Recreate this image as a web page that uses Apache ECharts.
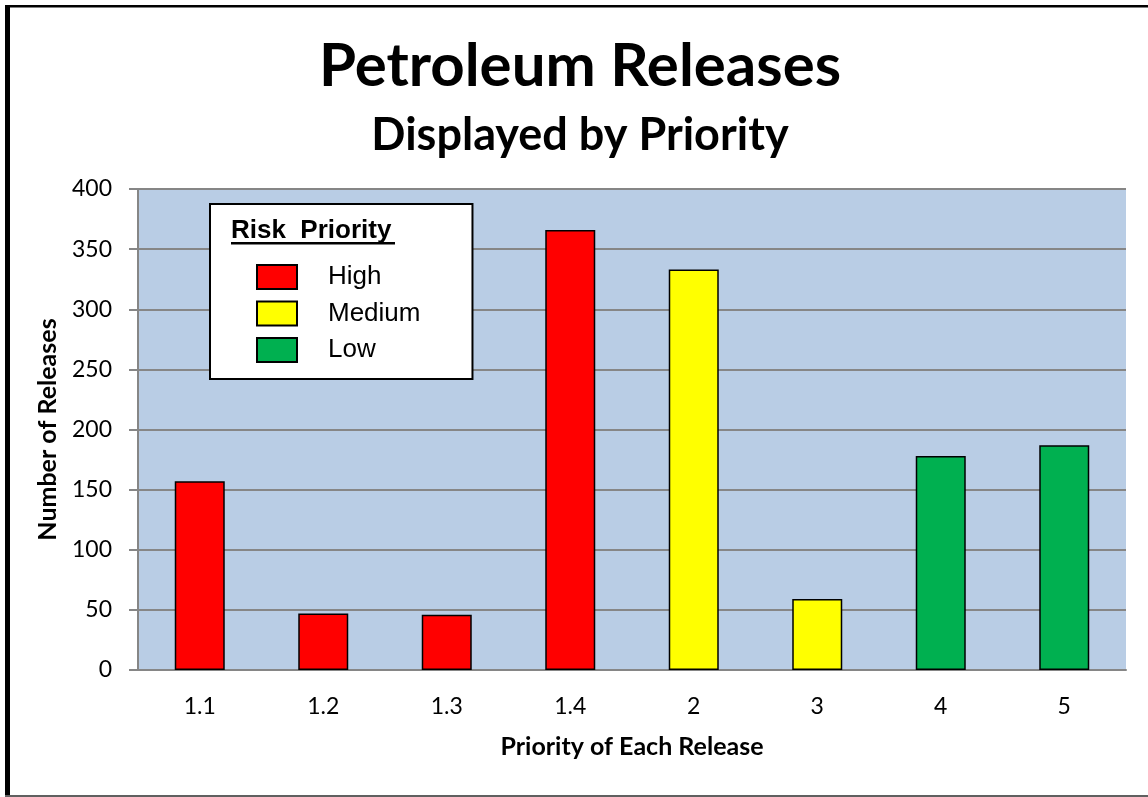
<!DOCTYPE html>
<html>
<head>
<meta charset="utf-8">
<title>Petroleum Releases</title>
<script src="https://cdn.jsdelivr.net/npm/echarts@6/dist/echarts.min.js"></script>
<style>
  html, body { margin: 0; padding: 0; background: #ffffff; }
  #chart { width: 1148px; height: 797px; }
</style>
</head>
<body>
<div id="chart"></div>
<script>
// Release priorities shown along the x axis
const categories = ['1.1', '1.2', '1.3', '1.4', '2', '3', '4', '5'];
// Number of releases recorded for each priority
const releaseCounts = [157, 47, 46, 366, 333, 59, 178, 187];
// Risk level that each priority belongs to
const priorityLevel = ['High', 'High', 'High', 'High', 'Medium', 'Medium', 'Low', 'Low'];
// Risk levels in legend order, with their fill colours
const riskLevels = ['High', 'Medium', 'Low'];
const riskColors = ['#ff0000', '#ffff00', '#00b050'];
// Value axis ticks
const yTicks = [0, 50, 100, 150, 200, 250, 300, 350, 400];

const CAL = "Lato, 'Open Sans', sans-serif";
const ARIAL = "'Liberation Sans', Arial, sans-serif";

// One series per risk level; categories of other levels stay empty
const series = riskLevels.map((lvl, k) => ({
  name: lvl,
  type: 'bar',
  stack: 'releases',
  barWidth: 50,
  data: categories.map((c, i) => priorityLevel[i] === lvl ? releaseCounts[i] : '-'),
  itemStyle: { color: riskColors[k], borderColor: '#000000', borderWidth: 1.5 }
}));

const chart = echarts.init(document.getElementById('chart'), null, { renderer: 'canvas' });
chart.setOption({
  animation: false,
  backgroundColor: '#ffffff',
  title: [
    {
      text: 'Petroleum Releases',
      left: 580, top: 37, padding: 0, textAlign: 'center',
      textStyle: { fontFamily: CAL, fontWeight: 'bold', fontSize: 60, color: '#000' }
    },
    {
      text: 'Displayed by Priority',
      left: 580, top: 113, padding: 0, textAlign: 'center',
      textStyle: { fontFamily: CAL, fontWeight: 'bold', fontSize: 45, color: '#000' }
    }
  ],
  legend: {
    data: riskLevels,
    orient: 'vertical',
    left: 210, top: 204,
    padding: [60, 52, 16, 46],
    itemWidth: 40, itemHeight: 24, itemGap: 10.5,
    icon: 'rect',
    backgroundColor: '#ffffff',
    borderColor: '#000000', borderWidth: 2,
    selectedMode: false,
    textStyle: { fontFamily: ARIAL, fontSize: 26, color: '#000', lineHeight: 24, padding: [0, 0, 0, 26] }
  },
  grid: {
    left: 138, right: 22, top: 189, bottom: 127,
    show: true, backgroundColor: '#b9cde5', borderWidth: 0
  },
  xAxis: {
    type: 'category',
    data: categories,
    name: 'Priority of Each Release',
    nameLocation: 'middle',
    nameGap: 64,
    nameTextStyle: { fontFamily: CAL, fontWeight: 'bold', fontSize: 25, color: '#000' },
    axisLine: { show: true, lineStyle: { color: '#868686', width: 2 } },
    axisTick: { show: false },
    axisLabel: { fontFamily: CAL, fontSize: 23, color: '#000', margin: 25 },
    splitLine: { show: false }
  },
  yAxis: {
    type: 'value',
    min: yTicks[0], max: yTicks[yTicks.length - 1], interval: yTicks[1] - yTicks[0],
    name: 'Number of Releases',
    nameLocation: 'middle',
    nameGap: 78,
    nameRotate: 90,
    nameTextStyle: { fontFamily: CAL, fontWeight: 'bold', fontSize: 25, color: '#000' },
    axisLine: { show: true, lineStyle: { color: '#868686', width: 2 } },
    axisTick: { show: true, length: 9, lineStyle: { color: '#868686', width: 2 } },
    axisLabel: { fontFamily: CAL, fontSize: 23, color: '#000', margin: 26 },
    splitLine: { show: true, lineStyle: { color: '#868686', width: 2 } }
  },
  series: series,
  graphic: [
    // legend heading, underlined
    {
      type: 'text', left: 231, top: 218, z: 100,
      style: { text: 'Risk  Priority', font: "bold 26px 'Liberation Sans', Arial, sans-serif", fill: '#000' }
    },
    {
      type: 'rect', left: 231, top: 242, z: 100,
      shape: { width: 164, height: 2.5 }, style: { fill: '#000' }
    },
    // frame around the chart
    { type: 'rect', left: 5, top: 5, shape: { width: 1143, height: 2.5 }, style: { fill: '#000' } },
    { type: 'rect', left: 5, top: 5, shape: { width: 5, height: 792 }, style: { fill: '#000' } },
    { type: 'rect', left: 5, top: 795, shape: { width: 1143, height: 2 }, style: { fill: '#606060' } }
  ]
});
</script>
</body>
</html>
